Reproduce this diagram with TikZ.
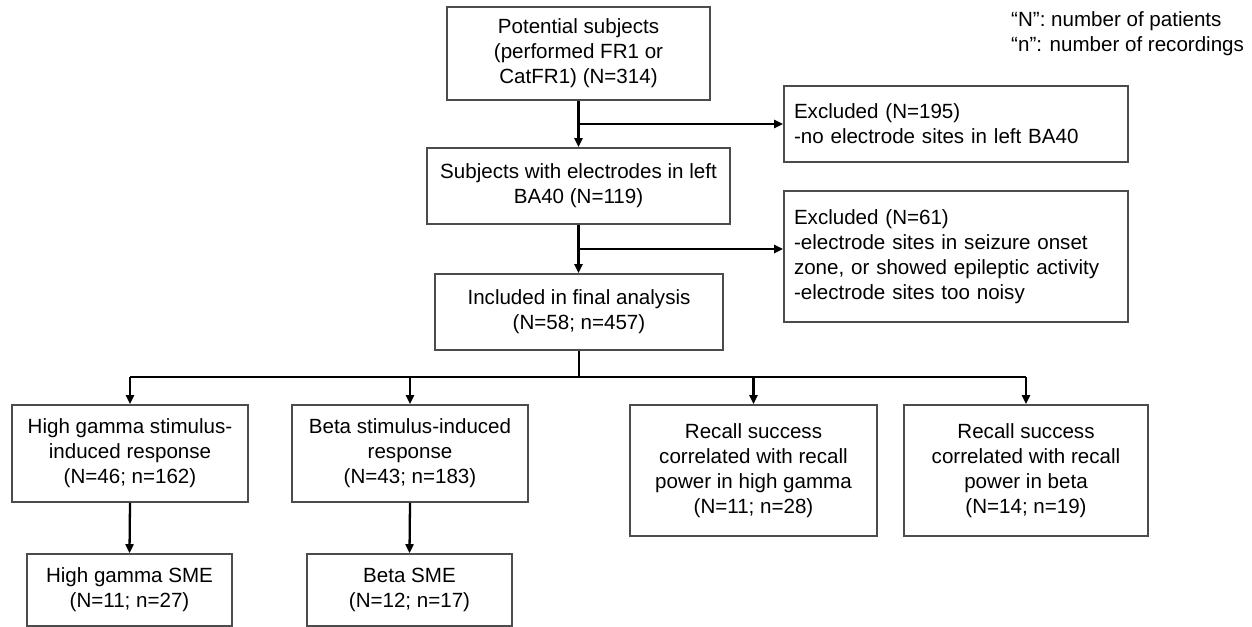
\documentclass[tikz,border=0pt]{standalone}
\usepackage{fontspec}
\setmainfont{Liberation Sans}
\usepackage{tikz}
\usetikzlibrary{arrows.meta}

\begin{document}
\begin{tikzpicture}[
    font=\fontsize{11.7}{14.2}\selectfont,
    box/.style={
        draw=black!70,
        line width=0.9pt,
        rectangle,
        align=center,
        inner sep=2pt
    },
    exbox/.style={
        draw=black!70,
        line width=0.9pt,
        rectangle,
        align=left,
        inner sep=0pt,
        text width=6.48cm,
        minimum width=6.88cm
    },
    arrow/.style={-{Triangle[length=1.8mm,width=1.6mm]}, line width=1.3pt},
    line/.style={line width=1.3pt}
]
\useasboundingbox (0,0) rectangle (25.04,-12.54);

% Legend
\node[anchor=north west, align=left] (legend) at (20.1,-0.1)
{“N”: number of patients\\“n”: number of recordings};

% Main column
\node[box, minimum width=5.26cm, minimum height=1.86cm] (pot) at (11.57,-1.07)
{Potential subjects\\(performed FR1 or\\CatFR1) (N=314)};
\node[box, minimum width=6.06cm, minimum height=1.52cm] (subj) at (11.57,-3.72)
{Subjects with electrodes in left\\BA40 (N=119)};
\node[box, minimum width=5.76cm, minimum height=1.52cm] (incl) at (11.58,-6.24)
{Included in final analysis\\(N=58; n=457)};

% Exclusion boxes
\node[exbox, minimum height=1.52cm] (excl1) at (19.12,-2.48)
{Excluded (N=195)\\-no electrode sites in left BA40};
\node[exbox, minimum height=2.62cm] (excl2) at (19.12,-5.13)
{Excluded (N=61)\\-electrode sites in seizure onset\\zone, or showed epileptic activity\\-electrode sites too noisy};

% Analysis boxes
\node[box, minimum width=4.72cm, minimum height=1.94cm] (hgresp) at (2.60,-9.07)
{High gamma stimulus-\\induced response\\(N=46; n=162)};
\node[box, minimum width=4.72cm, minimum height=1.94cm] (betaresp) at (8.20,-9.07)
{Beta stimulus-induced\\response\\(N=43; n=183)};
\node[box, minimum width=4.94cm, minimum height=2.62cm] (hgrecall) at (15.07,-9.41)
{Recall success\\correlated with recall\\power in high gamma\\(N=11; n=28)};
\node[box, minimum width=4.88cm, minimum height=2.62cm] (betarecall) at (20.52,-9.41)
{Recall success\\correlated with recall\\power in beta\\(N=14; n=19)};

% SME boxes
\node[box, minimum width=4.10cm, minimum height=1.44cm] (hgsme) at (2.59,-11.80)
{High gamma SME\\(N=11; n=27)};
\node[box, minimum width=4.10cm, minimum height=1.44cm] (betasme) at (8.19,-11.80)
{Beta SME\\(N=12; n=17)};

% Branch points
\coordinate (br1) at (pot.south |- excl1.west);
\coordinate (br2) at (11.57,-4.98);
\coordinate (bus) at (11.58,-7.54);

% Arrows: main column
\draw[arrow] (pot.south) -- (subj.north);
\draw[arrow] (subj.south) -- (subj.south |- incl.north);
\draw[arrow] (br1) -- (excl1.west);
\draw[arrow] (br2) -- (br2 -| excl2.west);

% Arrows: included to analyses
\draw[line] (incl.south) -- (incl.south |- bus);
\draw[line] (hgresp.north |- bus) -- (betarecall.north |- bus);
\draw[arrow] (hgresp.north |- bus) -- (hgresp.north);
\draw[arrow] (betaresp.north |- bus) -- (betaresp.north);
\draw[arrow] (hgrecall.north |- bus) -- (hgrecall.north);
\draw[arrow] (betarecall.north |- bus) -- (betarecall.north);

% Arrows: responses to SME
\draw[arrow] (hgresp.south) -- (hgsme.north);
\draw[arrow] (betaresp.south) -- (betasme.north);

\end{tikzpicture}
\end{document}
